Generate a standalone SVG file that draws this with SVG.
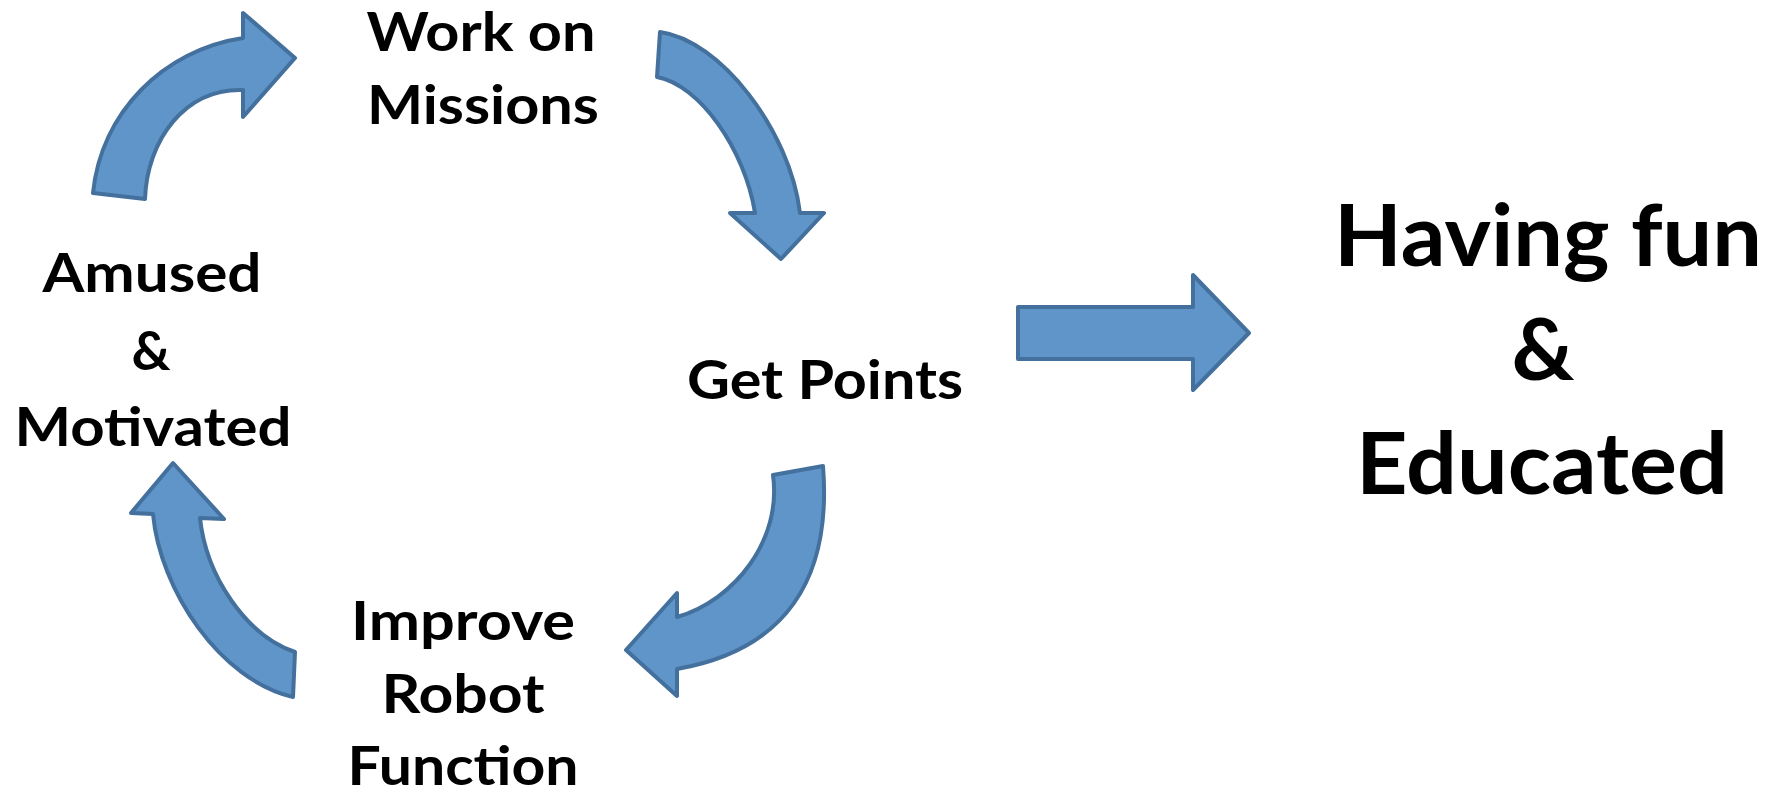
<svg xmlns="http://www.w3.org/2000/svg" width="1771" height="795" viewBox="0 0 1771 795">
<style>
.arr{fill:#5f95c8;stroke:#44709d;stroke-width:4;stroke-linejoin:round}
.t{font-family:Lato,"Open Sans","Liberation Sans",sans-serif;font-weight:bold;fill:#000;text-anchor:middle;font-size:54px}
.big{font-size:87px}
</style>
<rect width="1771" height="795" fill="#fff"/>
<g id="connectors">
<path id="arrow-amused-work" class="arr" d="M93,193 L145,199 C147,140 185,88 243,90 L243,117 L295,58 L243,13 L243,38 C163,50 101,113 93,193 Z"/>
<path id="arrow-work-points" class="arr" d="M660,32 L657,77 C700,85 745,150 755,213 L730,213 L781,259 L824,213 L800,213 C790,130 720,40 660,32 Z"/>
<path id="arrow-points-improve" class="arr" d="M823,466 L773,475 C782,540 735,600 677,617 L677,593 L626,650 L677,696 L677,669 C785,650 832,580 823,466 Z"/>
<path id="arrow-improve-amused" class="arr" d="M173,463 L224,519 L200,518 C206,575 245,635 295,652 L293,697 C220,680 160,590 153,514 L131,513 Z"/>
<path id="arrow-main" class="arr" d="M1018,307 L1193,307 L1193,275 L1249,333 L1193,390 L1193,359 L1018,359 Z"/>
</g>
<g id="node-work">
<text class="t" x="481" y="51" textLength="229" lengthAdjust="spacingAndGlyphs">Work on</text>
<text class="t" x="483" y="124" textLength="232" lengthAdjust="spacingAndGlyphs">Missions</text>
</g>
<g id="node-points">
<text class="t" x="825" y="399" textLength="276" lengthAdjust="spacingAndGlyphs">Get Points</text>
</g>
<g id="node-improve">
<text class="t" x="463" y="640" textLength="224" lengthAdjust="spacingAndGlyphs">Improve</text>
<text class="t" x="463" y="713" textLength="163" lengthAdjust="spacingAndGlyphs">Robot</text>
<text class="t" x="463" y="785" textLength="231" lengthAdjust="spacingAndGlyphs">Function</text>
</g>
<g id="node-amused">
<text class="t" x="152" y="292" textLength="219" lengthAdjust="spacingAndGlyphs">Amused</text>
<text class="t" x="151" y="370">&amp;</text>
<text class="t" x="153" y="446" textLength="277" lengthAdjust="spacingAndGlyphs">Motivated</text>
</g>
<g id="node-result">
<text class="t big" x="1548" y="266" textLength="428" lengthAdjust="spacingAndGlyphs">Having fun</text>
<text class="t big" x="1543" y="380">&amp;</text>
<text class="t big" x="1542" y="494" textLength="372" lengthAdjust="spacingAndGlyphs">Educated</text>
</g>
</svg>
